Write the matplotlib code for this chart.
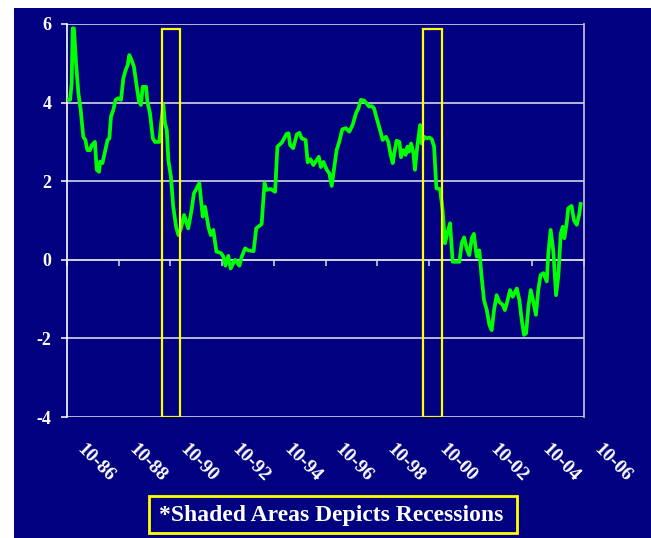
import matplotlib
matplotlib.use("Agg")
import matplotlib.pyplot as plt
from matplotlib.patches import Rectangle

# values (decimal year, percent)
years = [
    1986.80, 1986.87, 1986.93, 1986.97, 1987.02, 1987.10, 1987.19, 1987.28, 1987.38, 1987.46,
    1987.54, 1987.64, 1987.71, 1987.83, 1987.90, 1987.99, 1988.03, 1988.12, 1988.22, 1988.32,
    1988.39, 1988.45, 1988.54, 1988.63, 1988.73, 1988.84, 1988.93, 1989.02, 1989.10, 1989.16,
    1989.25, 1989.34, 1989.45, 1989.54, 1989.61, 1989.68, 1989.81, 1989.86, 1989.96, 1990.07,
    1990.15, 1990.32, 1990.39, 1990.48, 1990.54, 1990.61, 1990.67, 1990.77, 1990.86, 1990.97,
    1991.06, 1991.16, 1991.28, 1991.44, 1991.57, 1991.66, 1991.87, 1992.00, 1992.09, 1992.22,
    1992.31, 1992.41, 1992.53, 1992.71, 1992.80, 1992.88, 1992.99, 1993.08, 1993.25, 1993.42,
    1993.51, 1993.64, 1993.76, 1993.97, 1994.07, 1994.28, 1994.39, 1994.47, 1994.63, 1994.80,
    1994.89, 1995.06, 1995.24, 1995.32, 1995.38, 1995.50, 1995.64, 1995.74, 1995.83, 1995.98,
    1996.06, 1996.17, 1996.28, 1996.49, 1996.57, 1996.67, 1996.80, 1996.90, 1996.99, 1997.09,
    1997.18, 1997.28, 1997.40, 1997.54, 1997.67, 1997.80, 1997.93, 1998.02, 1998.12, 1998.25,
    1998.34, 1998.43, 1998.54, 1998.63, 1998.73, 1998.86, 1998.96, 1999.09, 1999.18, 1999.27,
    1999.35, 1999.41, 1999.50, 1999.61, 1999.67, 1999.76, 1999.85, 1999.92, 1999.98, 2000.06,
    2000.15, 2000.21, 2000.30, 2000.41, 2000.47, 2000.56, 2000.67, 2000.77, 2000.86, 2000.95,
    2001.04, 2001.18, 2001.28, 2001.37, 2001.46, 2001.57, 2001.67, 2001.93, 2002.02, 2002.11,
    2002.21, 2002.31, 2002.41, 2002.49, 2002.60, 2002.70, 2002.79, 2002.88, 2002.99, 2003.09,
    2003.18, 2003.27, 2003.37, 2003.47, 2003.61, 2003.69, 2003.78, 2003.89, 2003.99, 2004.15,
    2004.25, 2004.34, 2004.43, 2004.51, 2004.60, 2004.69, 2004.79, 2004.89, 2004.98, 2005.07,
    2005.18, 2005.31, 2005.37, 2005.46, 2005.56, 2005.67, 2005.76, 2005.85, 2005.93, 2005.99,
    2006.08, 2006.14, 2006.27, 2006.36, 2006.47, 2006.56, 2006.62,
]
values = [
    4.07, 4.07, 4.49, 5.89, 5.89, 5.00, 4.24, 3.81, 3.13, 3.05,
    2.79, 2.79, 2.92, 3.00, 2.29, 2.24, 2.50, 2.46, 2.75, 3.05,
    3.09, 3.64, 3.81, 4.07, 4.11, 4.07, 4.62, 4.83, 4.96, 5.21,
    5.08, 4.91, 4.40, 4.02, 3.94, 4.40, 4.40, 4.02, 3.73, 3.09,
    3.00, 3.00, 3.47, 3.94, 3.47, 3.30, 2.54, 2.11, 1.35, 0.84,
    0.63, 0.80, 1.14, 0.80, 1.27, 1.69, 1.95, 1.10, 1.35, 0.84,
    0.63, 0.76, 0.21, 0.17, 0.08, -0.15, 0.10, -0.22, 0.00, -0.15,
    0.08, 0.29, 0.24, 0.22, 0.80, 0.91, 1.95, 1.78, 1.80, 1.73,
    2.88, 2.98, 3.20, 3.22, 2.92, 2.84, 3.19, 3.23, 3.09, 3.05,
    2.48, 2.56, 2.41, 2.62, 2.36, 2.49, 2.29, 2.20, 1.88, 2.37,
    2.79, 3.00, 3.32, 3.35, 3.26, 3.43, 3.73, 3.85, 4.07, 4.05,
    3.98, 3.90, 3.91, 3.85, 3.60, 3.30, 3.05, 3.13, 3.00, 2.67,
    2.46, 2.71, 3.03, 3.00, 2.61, 2.79, 2.67, 2.88, 2.75, 2.96,
    2.71, 2.29, 2.88, 3.43, 2.96, 3.13, 3.09, 3.11, 3.07, 2.88,
    1.82, 1.80, 1.27, 0.42, 0.67, 0.93, -0.05, -0.05, 0.42, 0.57,
    0.29, 0.12, 0.55, 0.66, 0.08, 0.24, -0.44, -1.02, -1.28, -1.66,
    -1.79, -1.28, -0.90, -1.07, -1.15, -1.28, -1.07, -0.77, -0.94, -0.73,
    -1.02, -1.53, -1.91, -1.87, -1.19, -0.77, -1.07, -1.40, -0.77, -0.39,
    -0.34, -0.55, 0.17, 0.76, 0.24, -0.90, -0.39, 0.67, 0.84, 0.55,
    0.93, 1.31, 1.37, 1.01, 0.89, 1.14, 1.42,
]

tick_years = [1986.75, 1988.75, 1990.75, 1992.75, 1994.75, 1996.75,
              1998.75, 2000.75, 2002.75, 2004.75, 2006.75]
tick_labels = ["10-86", "10-88", "10-90", "10-92", "10-94", "10-96",
               "10-98", "10-00", "10-02", "10-04", "10-06"]
y_ticks = [-4, -2, 0, 2, 4, 6]

recession_start = [1990.43, 2000.52]
recession_end = [1991.13, 2001.26]
box_top = 5.87

navy = "#000080"
plt.rcParams["font.family"] = ["Liberation Serif", "DejaVu Serif"]
plt.rcParams["font.weight"] = "bold"
plt.rcParams["axes.unicode_minus"] = False

fig = plt.figure(figsize=(6.51, 5.38), dpi=100, facecolor="white")
fig.patches.append(Rectangle((14 / 651, 0), 1, 530 / 538, transform=fig.transFigure,
                             facecolor=navy, edgecolor="none", zorder=-10))

ax = fig.add_axes([67 / 651, 1 - 417 / 538, 517 / 651, 393 / 538])
ax.set_facecolor(navy)

ax.plot(years, values, color="#00FF00", lw=2.7, zorder=3, solid_joinstyle="round")

for start, end in zip(recession_start, recession_end):
    ax.add_patch(Rectangle((start, -4), end - start, box_top + 4, fill=False,
                           edgecolor="#FFFF00", lw=1.6, zorder=4))

ax.set_xlim(tick_years[0], tick_years[-1])
ax.set_ylim(-4, 6)
ax.set_yticks(y_ticks)
ax.yaxis.grid(True, color="#e8e8f0", lw=1.1)
ax.set_axisbelow(True)

ax.spines["top"].set_visible(False)
ax.spines["left"].set_color("white")
ax.spines["left"].set_linewidth(1.2)
ax.spines["right"].set_color("#c8c8dc")
ax.spines["right"].set_linewidth(1.2)
ax.spines["bottom"].set_position(("data", 0))
ax.spines["bottom"].set_color("#d8d8e4")
ax.spines["bottom"].set_linewidth(1.1)

ax.set_xticks(tick_years)
ax.set_xticklabels([])
ax.tick_params(axis="x", direction="out", length=4, width=1.1, color="#e0e0e8")
ax.tick_params(axis="y", direction="out", length=4, width=1.1, color="white",
               labelcolor="white", labelsize=13, pad=7)

for ty, lab in zip(tick_years, tick_labels):
    ax.text(ty + 0.25, -0.06, lab, transform=ax.get_xaxis_transform(),
            rotation=-45, ha="left", va="top", color="white", fontsize=14,
            fontweight="bold")

fig.patches.append(Rectangle((149 / 651, 5 / 538), 368 / 651, 37 / 538,
                             transform=fig.transFigure, fill=False,
                             edgecolor="#FFFF00", lw=2))
fig.text(331 / 651, 1 - 515 / 538, "*Shaded Areas Depicts Recessions",
         ha="center", va="center", color="white", fontsize=17, fontweight="bold")

fig.savefig("out.png", dpi=100, facecolor=fig.get_facecolor())
